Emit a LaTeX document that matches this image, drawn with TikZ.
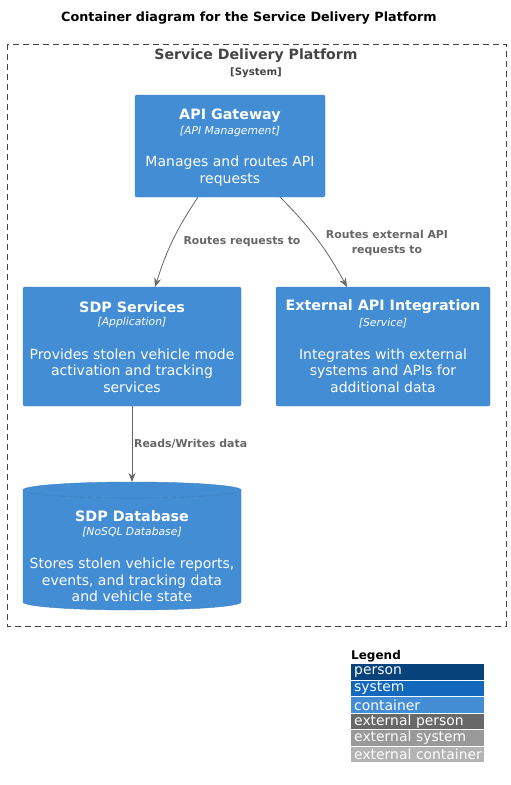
\documentclass[tikz,border=0pt]{standalone}
\usepackage{fontspec}
\setmainfont{DejaVu Sans}
\usetikzlibrary{arrows.meta}
\definecolor{c4blue}{HTML}{438DD5}
\definecolor{c4border}{HTML}{3C7FC0}
\definecolor{c4person}{HTML}{08427B}
\definecolor{c4system}{HTML}{1168BD}
\definecolor{extperson}{HTML}{686868}
\definecolor{extsystem}{HTML}{999999}
\definecolor{extcont}{HTML}{B3B3B3}
\definecolor{relgray}{HTML}{666666}
\definecolor{bndgray}{HTML}{444444}
\tikzset{
  cont/.style={fill=c4blue, draw=c4border, rounded corners=2pt, inner sep=0pt},
  ttl/.style={font=\fontsize{14.3}{18}\selectfont\bfseries, text=white, inner sep=0pt},
  tech/.style={font=\fontsize{10.8}{12}\selectfont\itshape, text=white, inner sep=0pt},
  desc/.style={font=\fontsize{14}{16.5}\selectfont, text=white, align=center, inner sep=0pt},
  rel/.style={draw=relgray, line width=0.8pt, -{Stealth[length=9pt,width=7pt]}},
  rellbl/.style={font=\fontsize{10.9}{15}\selectfont\bfseries, text=relgray, align=center, inner sep=0pt},
  legrow/.style={anchor=north west, minimum width=133pt, minimum height=15.5pt, inner sep=0pt, text=white,
     font=\fontsize{13.9}{14}\selectfont, text width=131pt, align=left},
}
\begin{document}
\begin{tikzpicture}[x=1pt,y=-1pt]
\useasboundingbox (0,0) rectangle (511,785);
% title
\node[font=\fontsize{12.75}{14}\selectfont\bfseries, inner sep=0pt] (title) at (249,18) {Container diagram for the Service Delivery Platform};
% boundary
\draw[dash pattern=on 6pt off 4pt, line width=0.8pt, draw=bndgray] (7,44) rectangle (506,626);
\node[font=\fontsize{14.1}{18}\selectfont\bfseries, text=bndgray, inner sep=0pt] (bttl) at (256,56) {Service Delivery Platform};
\node[font=\fontsize{10.2}{12}\selectfont\bfseries, text=bndgray, inner sep=0pt] (btech) at (256,73) {[System]};
% API gateway
\node[cont, minimum width=190pt, minimum height=102pt] (gw) at (230,146) {};
\node[ttl] (gwt) at (230,116) {API Gateway};
\node[tech] (gwk) at (230,132) {[API Management]};
\node[desc] (gwd) at (230,171) {Manages and routes API\\requests};
% SDP services
\node[cont, minimum width=218pt, minimum height=119pt] (svc) at (132,346.5) {};
\node[ttl] (svct) at (132,307) {SDP Services};
\node[tech] (svck) at (132,323) {[Application]};
\node[desc] (svcd) at (132,370.5) {Provides stolen vehicle mode\\activation and tracking\\services};
% External API
\node[cont, minimum width=214pt, minimum height=119pt] (ext) at (383,346.5) {};
\node[ttl] (extt) at (383,307) {External API Integration};
\node[tech] (extk) at (383,323) {[Service]};
\node[desc] (extd) at (383,370.5) {Integrates with external\\systems and APIs for\\additional data};
% database cylinder
\fill[c4blue, draw=c4border] (23,490) arc[x radius=109pt, y radius=8pt, start angle=180, end angle=360]
   -- (241,602) arc[x radius=109pt, y radius=8pt, start angle=0, end angle=-180] -- cycle;
\fill[c4blue, draw=c4border] (132,490) ellipse[x radius=109pt, y radius=8pt];
\node[minimum width=218pt, minimum height=128pt, inner sep=0pt] (db) at (132,546) {};
\node[ttl] (dbt) at (132,516) {SDP Database};
\node[tech] (dbk) at (132,532) {[NoSQL Database]};
\node[desc] (dbd) at (132,580) {Stores stolen vehicle reports,\\events, and tracking data\\and vehicle state};
% relations
\coordinate (gwa) at (198,197);
\coordinate (gwb) at (280,197);
\coordinate (svca) at (155,287);
\coordinate (exta) at (347,287);
\coordinate (svcb) at (132,406);
\coordinate (dba) at (132,482);
\draw[rel] (gwa) to[bend right=8] (svca);
\draw[rel] (gwb) to[bend left=8] (exta);
\draw[rel] (svcb) -- (dba);
\node[rellbl] (l1) at (242,242) {Routes requests to};
\node[rellbl] (l2) at (387,242.5) {Routes external API\\requests to};
\node[rellbl, anchor=west] (l3) at (134,444) {Reads/Writes data};
% legend
\node[font=\fontsize{12}{14}\selectfont\bfseries, anchor=west, inner sep=0pt] (leg) at (351,656) {Legend};
\node[legrow, fill=c4person] (lp) at (351,664) {\hspace{2pt}person};
\node[legrow, fill=c4system] (ls) at (351,680.5) {\hspace{2pt}system};
\node[legrow, fill=c4blue] (lc) at (351,697) {\hspace{2pt}container};
\node[legrow, fill=extperson] (lep) at (351,713.5) {\hspace{2pt}external person};
\node[legrow, fill=extsystem] (les) at (351,730) {\hspace{2pt}external system};
\node[legrow, fill=extcont] (lec) at (351,746.5) {\hspace{2pt}external container};
\end{tikzpicture}
\end{document}
